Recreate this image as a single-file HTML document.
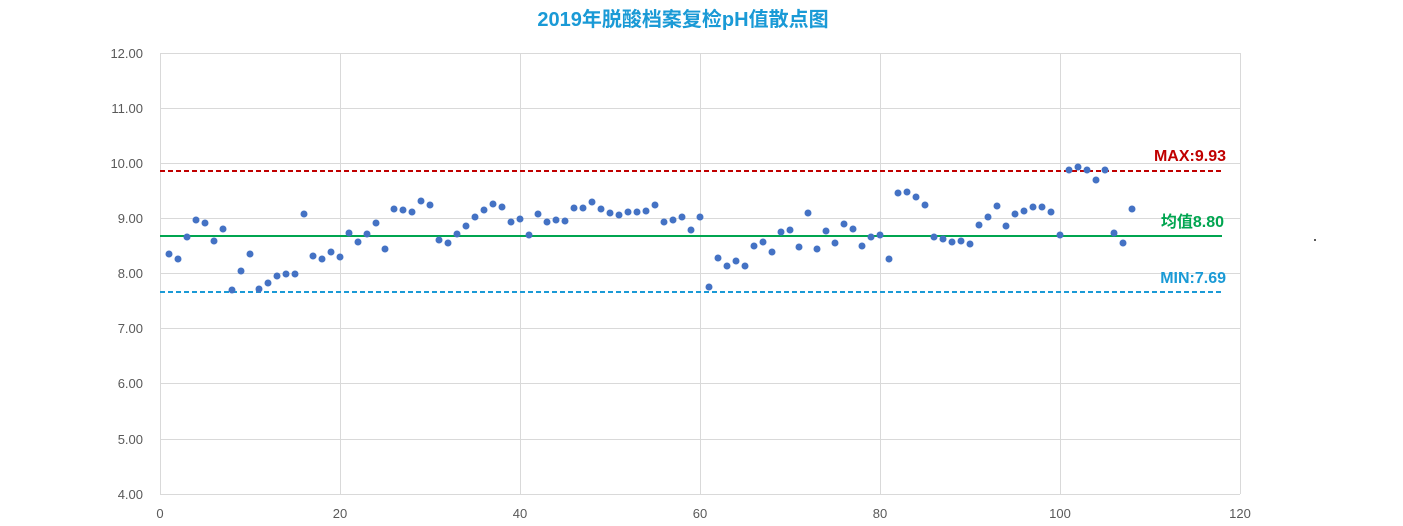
<!DOCTYPE html>
<html><head><meta charset="utf-8"><style>
html,body{margin:0;padding:0;background:#fff;}
svg{display:block;font-family:"Liberation Sans","Noto Sans CJK SC",sans-serif;}
</style></head><body>
<svg width="1403" height="526" viewBox="0 0 1403 526" xmlns="http://www.w3.org/2000/svg">
<rect width="1403" height="526" fill="#fff"/>
<text x="683" y="26" text-anchor="middle" font-size="20" font-weight="bold" fill="#1a9ad6">2019年脱酸档案复检pH值散点图</text>
<g stroke="#d9d9d9" stroke-width="1">
<line x1="160" y1="53.5" x2="1240" y2="53.5"/>
<line x1="160" y1="108.5" x2="1240" y2="108.5"/>
<line x1="160" y1="163.5" x2="1240" y2="163.5"/>
<line x1="160" y1="218.5" x2="1240" y2="218.5"/>
<line x1="160" y1="273.5" x2="1240" y2="273.5"/>
<line x1="160" y1="328.5" x2="1240" y2="328.5"/>
<line x1="160" y1="383.5" x2="1240" y2="383.5"/>
<line x1="160" y1="439.5" x2="1240" y2="439.5"/>
<line x1="160" y1="494.5" x2="1240" y2="494.5"/>
<line x1="160.5" y1="53" x2="160.5" y2="494"/>
<line x1="340.5" y1="53" x2="340.5" y2="494"/>
<line x1="520.5" y1="53" x2="520.5" y2="494"/>
<line x1="700.5" y1="53" x2="700.5" y2="494"/>
<line x1="880.5" y1="53" x2="880.5" y2="494"/>
<line x1="1060.5" y1="53" x2="1060.5" y2="494"/>
<line x1="1240.5" y1="53" x2="1240.5" y2="494"/>
</g>
<g font-size="13" fill="#595959" text-anchor="end">
<text x="143" y="58">12.00</text><text x="143" y="113">11.00</text><text x="143" y="168">10.00</text>
<text x="143" y="223">9.00</text><text x="143" y="278">8.00</text><text x="143" y="333">7.00</text>
<text x="143" y="388">6.00</text><text x="143" y="444">5.00</text><text x="143" y="499">4.00</text>
</g>
<g font-size="13" fill="#595959" text-anchor="middle">
<text x="160" y="518">0</text><text x="340" y="518">20</text><text x="520" y="518">40</text>
<text x="700" y="518">60</text><text x="880" y="518">80</text><text x="1060" y="518">100</text><text x="1240" y="518">120</text>
</g>
<line x1="160" y1="171" x2="1222" y2="171" stroke="#c00000" stroke-width="2" stroke-dasharray="5,3"/>
<line x1="160" y1="236" x2="1222" y2="236" stroke="#00a550" stroke-width="2"/>
<line x1="160" y1="292" x2="1222" y2="292" stroke="#1a9ad6" stroke-width="2" stroke-dasharray="5,3"/>
<g font-size="16" font-weight="bold" text-anchor="end">
<text x="1226" y="161" fill="#c00000">MAX:9.93</text>
<text x="1224" y="227" fill="#00a550">均值8.80</text>
<text x="1226" y="283" fill="#1a9ad6">MIN:7.69</text>
</g>
<rect x="1314" y="239" width="2" height="2" fill="#595959"/>
<g fill="#4472c4">
<circle cx="169" cy="254" r="3.5"/><circle cx="178" cy="259" r="3.5"/><circle cx="187" cy="237" r="3.5"/><circle cx="196" cy="220" r="3.5"/><circle cx="205" cy="223" r="3.5"/>
<circle cx="214" cy="241" r="3.5"/><circle cx="223" cy="229" r="3.5"/><circle cx="232" cy="290" r="3.5"/><circle cx="241" cy="271" r="3.5"/><circle cx="250" cy="254" r="3.5"/>
<circle cx="259" cy="289" r="3.5"/><circle cx="268" cy="283" r="3.5"/><circle cx="277" cy="276" r="3.5"/><circle cx="286" cy="274" r="3.5"/><circle cx="295" cy="274" r="3.5"/>
<circle cx="304" cy="214" r="3.5"/><circle cx="313" cy="256" r="3.5"/><circle cx="322" cy="259" r="3.5"/><circle cx="331" cy="252" r="3.5"/><circle cx="340" cy="257" r="3.5"/>
<circle cx="349" cy="233" r="3.5"/><circle cx="358" cy="242" r="3.5"/><circle cx="367" cy="234" r="3.5"/><circle cx="376" cy="223" r="3.5"/><circle cx="385" cy="249" r="3.5"/>
<circle cx="394" cy="209" r="3.5"/><circle cx="403" cy="210" r="3.5"/><circle cx="412" cy="212" r="3.5"/><circle cx="421" cy="201" r="3.5"/><circle cx="430" cy="205" r="3.5"/>
<circle cx="439" cy="240" r="3.5"/><circle cx="448" cy="243" r="3.5"/><circle cx="457" cy="234" r="3.5"/><circle cx="466" cy="226" r="3.5"/><circle cx="475" cy="217" r="3.5"/>
<circle cx="484" cy="210" r="3.5"/><circle cx="493" cy="204" r="3.5"/><circle cx="502" cy="207" r="3.5"/><circle cx="511" cy="222" r="3.5"/><circle cx="520" cy="219" r="3.5"/>
<circle cx="529" cy="235" r="3.5"/><circle cx="538" cy="214" r="3.5"/><circle cx="547" cy="222" r="3.5"/><circle cx="556" cy="220" r="3.5"/><circle cx="565" cy="221" r="3.5"/>
<circle cx="574" cy="208" r="3.5"/><circle cx="583" cy="208" r="3.5"/><circle cx="592" cy="202" r="3.5"/><circle cx="601" cy="209" r="3.5"/><circle cx="610" cy="213" r="3.5"/>
<circle cx="619" cy="215" r="3.5"/><circle cx="628" cy="212" r="3.5"/><circle cx="637" cy="212" r="3.5"/><circle cx="646" cy="211" r="3.5"/><circle cx="655" cy="205" r="3.5"/>
<circle cx="664" cy="222" r="3.5"/><circle cx="673" cy="220" r="3.5"/><circle cx="682" cy="217" r="3.5"/><circle cx="691" cy="230" r="3.5"/><circle cx="700" cy="217" r="3.5"/>
<circle cx="709" cy="287" r="3.5"/><circle cx="718" cy="258" r="3.5"/><circle cx="727" cy="266" r="3.5"/><circle cx="736" cy="261" r="3.5"/><circle cx="745" cy="266" r="3.5"/>
<circle cx="754" cy="246" r="3.5"/><circle cx="763" cy="242" r="3.5"/><circle cx="772" cy="252" r="3.5"/><circle cx="781" cy="232" r="3.5"/><circle cx="790" cy="230" r="3.5"/>
<circle cx="799" cy="247" r="3.5"/><circle cx="808" cy="213" r="3.5"/><circle cx="817" cy="249" r="3.5"/><circle cx="826" cy="231" r="3.5"/><circle cx="835" cy="243" r="3.5"/>
<circle cx="844" cy="224" r="3.5"/><circle cx="853" cy="229" r="3.5"/><circle cx="862" cy="246" r="3.5"/><circle cx="871" cy="237" r="3.5"/><circle cx="880" cy="235" r="3.5"/>
<circle cx="889" cy="259" r="3.5"/><circle cx="898" cy="193" r="3.5"/><circle cx="907" cy="192" r="3.5"/><circle cx="916" cy="197" r="3.5"/><circle cx="925" cy="205" r="3.5"/>
<circle cx="934" cy="237" r="3.5"/><circle cx="943" cy="239" r="3.5"/><circle cx="952" cy="242" r="3.5"/><circle cx="961" cy="241" r="3.5"/><circle cx="970" cy="244" r="3.5"/>
<circle cx="979" cy="225" r="3.5"/><circle cx="988" cy="217" r="3.5"/><circle cx="997" cy="206" r="3.5"/><circle cx="1006" cy="226" r="3.5"/><circle cx="1015" cy="214" r="3.5"/>
<circle cx="1024" cy="211" r="3.5"/><circle cx="1033" cy="207" r="3.5"/><circle cx="1042" cy="207" r="3.5"/><circle cx="1051" cy="212" r="3.5"/><circle cx="1060" cy="235" r="3.5"/>
<circle cx="1069" cy="170" r="3.5"/><circle cx="1078" cy="167" r="3.5"/><circle cx="1087" cy="170" r="3.5"/><circle cx="1096" cy="180" r="3.5"/><circle cx="1105" cy="170" r="3.5"/>
<circle cx="1114" cy="233" r="3.5"/><circle cx="1123" cy="243" r="3.5"/><circle cx="1132" cy="209" r="3.5"/>
</g>
</svg>
</body></html>
